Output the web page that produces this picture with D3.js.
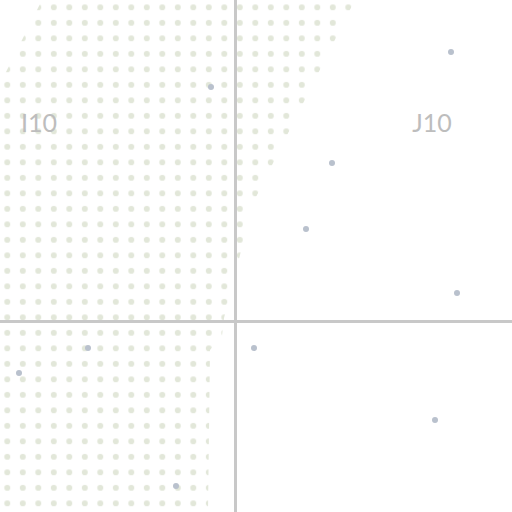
<!DOCTYPE html>
<html><head><meta charset="utf-8">
<script src="https://cdn.jsdelivr.net/npm/d3@7"></script>
<style>html,body{margin:0;padding:0;background:#fff;}svg{display:block;}</style>
</head><body>
<script>
// tile grid
const gridX = [235.5];
const gridY = [321.5];
const tileLabels = ["I10", "J10"];
const labelX = [39, 432];
const labelY = [132, 132];
// dotted area outline
const areaX = [42, 355, 252, 240, 224, 222, 210, 208, 0, 0];
const areaY = [0, 0, 205, 255, 318, 336, 350, 512, 512, 84];
// scattered points
const ptX = [451, 211, 332, 306, 457, 254, 88, 19, 435, 176];
const ptY = [52, 87, 163, 229, 293, 348, 348, 373, 420, 486];

const W = 512, H = 512;
const x = d3.scaleLinear().domain([0, 512]).range([0, W]);
const y = d3.scaleLinear().domain([0, 512]).range([0, H]);

const svg = d3.select("body").append("svg").attr("width", W).attr("height", H);
const defs = svg.append("defs");
const pat = defs.append("pattern").attr("id", "dots")
  .attr("patternUnits", "userSpaceOnUse")
  .attr("x", -0.45).attr("y", -0.45)
  .attr("width", 15.5).attr("height", 15.5);
pat.append("circle").attr("cx", 7.75).attr("cy", 7.75).attr("r", 3).attr("fill", "#e2e7d9");

const area = areaX.map((v, i) => [x(v), y(areaY[i])]);
svg.append("path").attr("d", "M" + area.join("L") + "Z").attr("fill", "url(#dots)");

svg.selectAll(".gx").data(gridX).join("line")
  .attr("x1", d => x(d)).attr("x2", d => x(d)).attr("y1", 0).attr("y2", H)
  .attr("stroke", "#c8c8c8").attr("stroke-width", 3);
svg.selectAll(".gy").data(gridY).join("line")
  .attr("y1", d => y(d)).attr("y2", d => y(d)).attr("x1", 0).attr("x2", W)
  .attr("stroke", "#c8c8c8").attr("stroke-width", 3);

svg.selectAll(".lbl").data(tileLabels).join("text")
  .attr("x", (d, i) => x(labelX[i])).attr("y", (d, i) => y(labelY[i]))
  .attr("text-anchor", "middle")
  .attr("font-family", "Lato, sans-serif").attr("font-size", 25)
  .attr("fill", "#bdbdbd").text(d => d);

svg.selectAll(".pt").data(ptX).join("circle")
  .attr("cx", d => x(d)).attr("cy", (d, i) => y(ptY[i])).attr("r", 3)
  .attr("fill", "#b9c1cd");
</script>
</body></html>
